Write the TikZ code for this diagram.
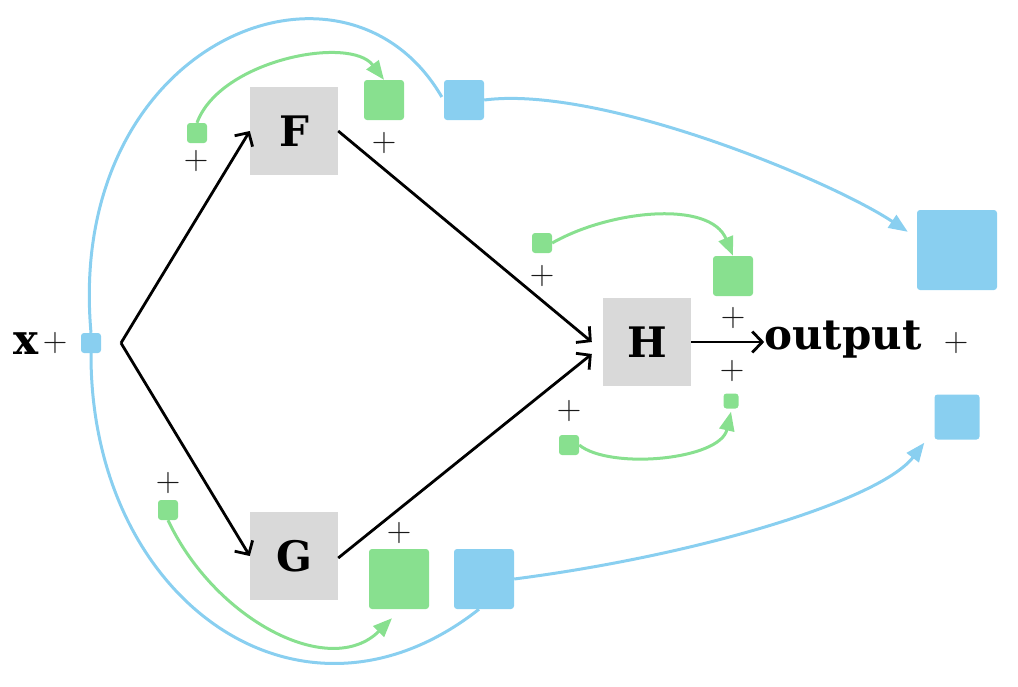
\documentclass[tikz,border=0pt]{standalone}
\usepackage{fontspec}
\setmainfont{DejaVu Serif}
\newfontfamily\plusfont{Latin Modern Roman}
\usetikzlibrary{arrows.meta,calc}
\definecolor{lgreen}{HTML}{88E08F}
\definecolor{lblue}{HTML}{89CFF0}
\definecolor{boxgray}{HTML}{D9D9D9}
\begin{document}
\begin{tikzpicture}[x=1pt,y=-1pt,
  op/.style={fill=boxgray, minimum size=88pt, inner sep=0pt, font=\fontsize{42}{42}\selectfont\bfseries},
  gsq/.style={fill=lgreen, rounded corners=3pt, inner sep=0pt, minimum size=#1},
  bsq/.style={fill=lblue, rounded corners=3pt, inner sep=0pt, minimum size=#1},
  plus/.style={font=\plusfont\fontsize{34}{34}\selectfont, text=black!90, inner sep=0pt},
  lbl/.style={font=\fontsize{42}{42}\selectfont\bfseries, inner sep=0pt},
  flow/.style={draw=black, line width=2.8pt, -{Straight Barb[length=10pt,width=21pt,line width=2.8pt]}},
  gflow/.style={draw=lgreen, line width=3pt, -{Triangle[length=19pt,width=15pt]}},
  bflow/.style={draw=lblue, line width=3pt, -{Triangle[length=19pt,width=15pt]}},
  bline/.style={draw=lblue, line width=3pt}
]
\useasboundingbox (0,0) rectangle (1018,686);
% main nodes
\node[lbl, anchor=base] (xl) at (26,354) {x};
\node[plus] (xp) at (55,343) {+};
\node[bsq=20pt] (xs) at (91,343) {};
\coordinate (sp) at (121,343);
\node[op] (F) at (294,131) {F};
\node[op] (G) at (294,556) {G};
\node[op] (H) at (647,342) {H};
\node[lbl, anchor=base] (out) at (843,349) {output};
\node[plus] (outp) at (956,343) {+};
% F side
\node[gsq=20pt] (gF1) at (197,133) {};
\node[plus] (gF1p) at (196,161) {+};
\node[gsq=40pt] (gF2) at (384,100) {};
\node[plus] (gF2p) at (384,143) {+};
\node[bsq=40pt] (bF) at (464,100) {};
% G side
\node[gsq=20pt] (gG1) at (168,510) {};
\node[plus] (gG1p) at (168,483) {+};
\node[gsq=60pt] (gG2) at (399,579) {};
\node[plus] (gG2p) at (399,533) {+};
\node[bsq=60pt] (bG) at (484,579) {};
% H side
\node[gsq=20pt] (gH1) at (542,243) {};
\node[plus] (gH1p) at (542,276) {+};
\node[gsq=40pt] (gH2) at (733,276) {};
\node[plus] (gH2p) at (733,318) {+};
\node[gsq=20pt] (gH3) at (569,445) {};
\node[plus] (gH3p) at (569,411) {+};
\node[gsq=15pt] (gH4) at (731,401) {};
\node[plus] (gH4p) at (732,371) {+};
% output side
\node[bsq=80pt] (bO1) at (957,250) {};
\node[bsq=45pt] (bO2) at (957,417) {};
% black flow
\draw[flow] (sp) -- (F.west);
\draw[flow] (sp) -- (G.west);
\draw[flow] (F.east) -- ($(H.west)+(-11,0)$);
\draw[flow] ($(G.east)+(0,2)$) -- ($(H.west)+(-11,12)$);
\draw[flow] (H.east) -- (H.east -| out.west);
% green curves
\draw[gflow] (gF1.north) .. controls (220,60) and (350,35) .. (gF2.north);
\draw[gflow] (gH1.east) .. controls (610,210) and (710,200) .. (gH2.north);
\draw[gflow] (gH3.east) .. controls (610,470) and (720,460) .. ($(gH4.south)+(0,3)$);
\draw[gflow] (gG1.south) .. controls (215,620) and (330,680) .. ($(gG2.south)+(-7,9)$);
% blue curves
\draw[bline] (xs.north) .. controls (65,40) and (345,-70) .. ($(bF.west)+(-2,-3)$);
\draw[bflow] (bF.east) .. controls (600,85) and (830,180) .. ($(bO1.north west)+(-9,22)$);
\draw[bline] (xs.south) .. controls (90,600) and (300,750) .. ($(bG.south)+(-5,0)$);
\draw[bflow] (bG.east) .. controls (700,555) and (880,500) .. ($(bO2.south west)+(-10,3)$);
\end{tikzpicture}
\end{document}
